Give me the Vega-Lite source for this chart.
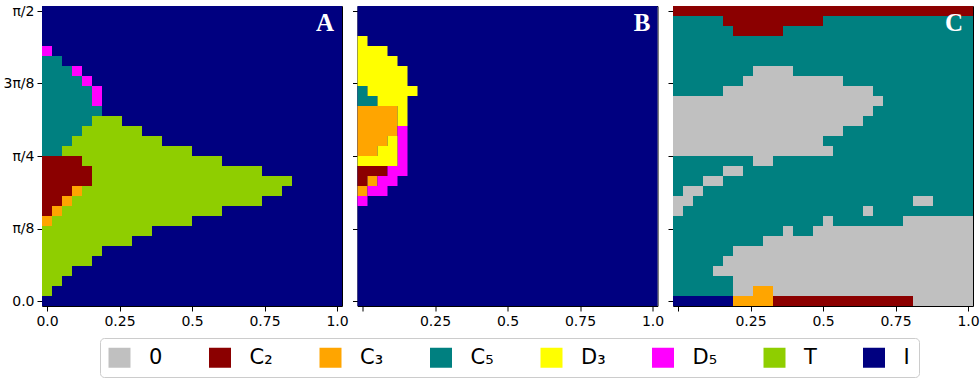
{
  "$schema": "https://vega.github.io/schema/vega-lite/v6.json",
  "padding": {"left": 2, "top": 3, "right": 0, "bottom": 0},
  "background": "white",
  "datasets": {
    "cells": [
      {"p":"A","x0":0,"x1":30,"y0":0,"y1":30,"k":"I"},
      {"p":"A","x0":0,"x1":1,"y0":25,"y1":26,"k":"D₅"},
      {"p":"A","x0":0,"x1":2,"y0":24,"y1":25,"k":"C₅"},
      {"p":"A","x0":0,"x1":3,"y0":23,"y1":24,"k":"C₅"},
      {"p":"A","x0":3,"x1":4,"y0":23,"y1":24,"k":"D₅"},
      {"p":"A","x0":0,"x1":4,"y0":22,"y1":23,"k":"C₅"},
      {"p":"A","x0":4,"x1":5,"y0":22,"y1":23,"k":"D₅"},
      {"p":"A","x0":0,"x1":5,"y0":20,"y1":22,"k":"C₅"},
      {"p":"A","x0":5,"x1":6,"y0":20,"y1":22,"k":"D₅"},
      {"p":"A","x0":0,"x1":6,"y0":19,"y1":20,"k":"C₅"},
      {"p":"A","x0":0,"x1":5,"y0":18,"y1":19,"k":"C₅"},
      {"p":"A","x0":5,"x1":8,"y0":18,"y1":19,"k":"T"},
      {"p":"A","x0":0,"x1":4,"y0":17,"y1":18,"k":"C₅"},
      {"p":"A","x0":4,"x1":10,"y0":17,"y1":18,"k":"T"},
      {"p":"A","x0":0,"x1":3,"y0":16,"y1":17,"k":"C₅"},
      {"p":"A","x0":3,"x1":12,"y0":16,"y1":17,"k":"T"},
      {"p":"A","x0":0,"x1":2,"y0":15,"y1":16,"k":"C₅"},
      {"p":"A","x0":2,"x1":15,"y0":15,"y1":16,"k":"T"},
      {"p":"A","x0":0,"x1":4,"y0":14,"y1":15,"k":"C₂"},
      {"p":"A","x0":4,"x1":18,"y0":14,"y1":15,"k":"T"},
      {"p":"A","x0":0,"x1":5,"y0":12,"y1":14,"k":"C₂"},
      {"p":"A","x0":5,"x1":22,"y0":13,"y1":14,"k":"T"},
      {"p":"A","x0":5,"x1":25,"y0":12,"y1":13,"k":"T"},
      {"p":"A","x0":0,"x1":3,"y0":11,"y1":12,"k":"C₂"},
      {"p":"A","x0":3,"x1":4,"y0":11,"y1":12,"k":"C₃"},
      {"p":"A","x0":4,"x1":24,"y0":11,"y1":12,"k":"T"},
      {"p":"A","x0":0,"x1":2,"y0":10,"y1":11,"k":"C₂"},
      {"p":"A","x0":2,"x1":3,"y0":10,"y1":11,"k":"C₃"},
      {"p":"A","x0":3,"x1":22,"y0":10,"y1":11,"k":"T"},
      {"p":"A","x0":0,"x1":1,"y0":9,"y1":10,"k":"C₂"},
      {"p":"A","x0":1,"x1":2,"y0":9,"y1":10,"k":"C₃"},
      {"p":"A","x0":2,"x1":18,"y0":9,"y1":10,"k":"T"},
      {"p":"A","x0":0,"x1":1,"y0":8,"y1":9,"k":"C₃"},
      {"p":"A","x0":1,"x1":15,"y0":8,"y1":9,"k":"T"},
      {"p":"A","x0":0,"x1":11,"y0":7,"y1":8,"k":"T"},
      {"p":"A","x0":0,"x1":9,"y0":6,"y1":7,"k":"T"},
      {"p":"A","x0":0,"x1":6,"y0":5,"y1":6,"k":"T"},
      {"p":"A","x0":0,"x1":5,"y0":4,"y1":5,"k":"T"},
      {"p":"A","x0":0,"x1":3,"y0":3,"y1":4,"k":"T"},
      {"p":"A","x0":0,"x1":2,"y0":2,"y1":3,"k":"T"},
      {"p":"A","x0":0,"x1":1,"y0":1,"y1":2,"k":"T"},

      {"p":"B","x0":0,"x1":30,"y0":0,"y1":30,"k":"I"},
      {"p":"B","x0":0,"x1":1,"y0":26,"y1":27,"k":"D₃"},
      {"p":"B","x0":0,"x1":3,"y0":25,"y1":26,"k":"D₃"},
      {"p":"B","x0":0,"x1":4,"y0":24,"y1":25,"k":"D₃"},
      {"p":"B","x0":0,"x1":5,"y0":22,"y1":24,"k":"D₃"},
      {"p":"B","x0":0,"x1":1,"y0":21,"y1":22,"k":"C₅"},
      {"p":"B","x0":1,"x1":6,"y0":21,"y1":22,"k":"D₃"},
      {"p":"B","x0":0,"x1":2,"y0":20,"y1":21,"k":"C₅"},
      {"p":"B","x0":2,"x1":5,"y0":20,"y1":21,"k":"D₃"},
      {"p":"B","x0":0,"x1":4,"y0":17,"y1":20,"k":"C₃"},
      {"p":"B","x0":4,"x1":5,"y0":18,"y1":20,"k":"D₃"},
      {"p":"B","x0":4,"x1":5,"y0":14,"y1":18,"k":"D₅"},
      {"p":"B","x0":0,"x1":3,"y0":16,"y1":17,"k":"C₃"},
      {"p":"B","x0":3,"x1":4,"y0":16,"y1":17,"k":"D₃"},
      {"p":"B","x0":0,"x1":2,"y0":15,"y1":16,"k":"C₃"},
      {"p":"B","x0":2,"x1":4,"y0":15,"y1":16,"k":"D₃"},
      {"p":"B","x0":0,"x1":4,"y0":14,"y1":15,"k":"D₃"},
      {"p":"B","x0":0,"x1":3,"y0":13,"y1":14,"k":"C₂"},
      {"p":"B","x0":3,"x1":5,"y0":13,"y1":14,"k":"D₅"},
      {"p":"B","x0":0,"x1":1,"y0":12,"y1":13,"k":"C₂"},
      {"p":"B","x0":1,"x1":2,"y0":12,"y1":13,"k":"C₃"},
      {"p":"B","x0":2,"x1":4,"y0":12,"y1":13,"k":"D₅"},
      {"p":"B","x0":0,"x1":1,"y0":11,"y1":12,"k":"C₃"},
      {"p":"B","x0":1,"x1":3,"y0":11,"y1":12,"k":"D₅"},
      {"p":"B","x0":0,"x1":1,"y0":10,"y1":11,"k":"D₅"},

      {"p":"C","x0":0,"x1":30,"y0":0,"y1":30,"k":"C₅"},
      {"p":"C","x0":0,"x1":30,"y0":29,"y1":30,"k":"C₂"},
      {"p":"C","x0":5,"x1":15,"y0":28,"y1":29,"k":"C₂"},
      {"p":"C","x0":6,"x1":11,"y0":27,"y1":28,"k":"C₂"},
      {"p":"C","x0":8,"x1":12,"y0":23,"y1":24,"k":"0"},
      {"p":"C","x0":7,"x1":17,"y0":22,"y1":23,"k":"0"},
      {"p":"C","x0":5,"x1":20,"y0":21,"y1":22,"k":"0"},
      {"p":"C","x0":0,"x1":21,"y0":20,"y1":21,"k":"0"},
      {"p":"C","x0":0,"x1":20,"y0":19,"y1":20,"k":"0"},
      {"p":"C","x0":0,"x1":19,"y0":18,"y1":19,"k":"0"},
      {"p":"C","x0":0,"x1":17,"y0":17,"y1":18,"k":"0"},
      {"p":"C","x0":0,"x1":15,"y0":16,"y1":17,"k":"0"},
      {"p":"C","x0":0,"x1":16,"y0":15,"y1":16,"k":"0"},
      {"p":"C","x0":8,"x1":10,"y0":14,"y1":15,"k":"0"},
      {"p":"C","x0":5,"x1":7,"y0":13,"y1":14,"k":"0"},
      {"p":"C","x0":3,"x1":5,"y0":12,"y1":13,"k":"0"},
      {"p":"C","x0":1,"x1":3,"y0":11,"y1":12,"k":"0"},
      {"p":"C","x0":0,"x1":2,"y0":10,"y1":11,"k":"0"},
      {"p":"C","x0":24,"x1":26,"y0":10,"y1":11,"k":"0"},
      {"p":"C","x0":0,"x1":1,"y0":9,"y1":10,"k":"0"},
      {"p":"C","x0":19,"x1":20,"y0":9,"y1":10,"k":"0"},
      {"p":"C","x0":15,"x1":16,"y0":8,"y1":9,"k":"0"},
      {"p":"C","x0":23,"x1":30,"y0":8,"y1":9,"k":"0"},
      {"p":"C","x0":11,"x1":12,"y0":7,"y1":8,"k":"0"},
      {"p":"C","x0":14,"x1":30,"y0":7,"y1":8,"k":"0"},
      {"p":"C","x0":9,"x1":30,"y0":6,"y1":7,"k":"0"},
      {"p":"C","x0":6,"x1":30,"y0":5,"y1":6,"k":"0"},
      {"p":"C","x0":5,"x1":30,"y0":4,"y1":5,"k":"0"},
      {"p":"C","x0":4,"x1":30,"y0":3,"y1":4,"k":"0"},
      {"p":"C","x0":6,"x1":30,"y0":2,"y1":3,"k":"0"},
      {"p":"C","x0":6,"x1":8,"y0":1,"y1":2,"k":"0"},
      {"p":"C","x0":8,"x1":10,"y0":1,"y1":2,"k":"C₃"},
      {"p":"C","x0":10,"x1":30,"y0":1,"y1":2,"k":"0"},
      {"p":"C","x0":0,"x1":6,"y0":0,"y1":1,"k":"I"},
      {"p":"C","x0":6,"x1":10,"y0":0,"y1":1,"k":"C₃"},
      {"p":"C","x0":10,"x1":24,"y0":0,"y1":1,"k":"C₂"},
      {"p":"C","x0":24,"x1":30,"y0":0,"y1":1,"k":"0"}
    ],
    "labels": [
      {"p":"A","t":"A","x":29.2,"y":27.5},
      {"p":"B","t":"B","x":29.3,"y":27.5},
      {"p":"C","t":"C","x":29.0,"y":27.5}
    ]
  },
  "hconcat": [
    {
      "width": 300, "height": 300,
      "layer": [
        {
          "data": {"name": "cells"},
          "transform": [{"filter": "datum.p == 'A'"}],
          "mark": {"type": "rect", "strokeWidth": 0},
          "encoding": {
            "x": {"field": "x0", "type": "quantitative", "title": null,
                  "scale": {"domain": [0, 30], "nice": false, "zero": false},
                  "axis": {"values": [0.5, 7.75, 15, 22.25, 29.5],
                           "labelExpr": "datum.value < 1 ? '0.0' : datum.value < 8 ? '0.25' : datum.value < 16 ? '0.5' : datum.value < 23 ? '0.75' : '1.0'"}},
            "x2": {"field": "x1"},
            "y": {"field": "y0", "type": "quantitative", "title": null,
                  "scale": {"domain": [0, 30], "nice": false, "zero": false},
                  "axis": {"values": [0.5, 7.75, 15, 22.25, 29.5],
                           "labelExpr": "datum.value < 1 ? '0.0' : datum.value < 8 ? 'π/8' : datum.value < 16 ? 'π/4' : datum.value < 23 ? '3π/8' : 'π/2'"}},
            "y2": {"field": "y1"},
            "color": {"field": "k", "type": "nominal",
                      "scale": {"domain": ["0","C₂","C₃","C₅","D₃","D₅","T","I"],
                                "range": ["#c0c0c0","#8b0000","#ffa500","#008080","#ffff00","#ff00ff","#8fce00","#000080"]},
                      "legend": {"title": null, "orient": "none", "legendX": 58, "legendY": 332,
                                 "direction": "horizontal", "columns": 8}}
          }
        },
        {
          "data": {"name": "labels"},
          "transform": [{"filter": "datum.p == 'A'"}],
          "mark": {"type": "text", "font": "Liberation Serif", "fontWeight": "bold", "fontSize": 25, "color": "white", "align": "right", "baseline": "alphabetic"},
          "encoding": {
            "x": {"field": "x", "type": "quantitative"},
            "y": {"field": "y", "type": "quantitative"},
            "text": {"field": "t"}
          }
        }
      ]
    },
    {
      "width": 300, "height": 300,
      "layer": [
        {
          "data": {"name": "cells"},
          "transform": [{"filter": "datum.p == 'B'"}],
          "mark": {"type": "rect", "strokeWidth": 0},
          "encoding": {
            "x": {"field": "x0", "type": "quantitative", "title": null,
                  "scale": {"domain": [0, 30], "nice": false, "zero": false},
                  "axis": {"values": [0.5, 7.75, 15, 22.25, 29.5],
                           "labelExpr": "datum.value < 1 ? '' : datum.value < 8 ? '0.25' : datum.value < 16 ? '0.5' : datum.value < 23 ? '0.75' : '1.0'"}},
            "x2": {"field": "x1"},
            "y": {"field": "y0", "type": "quantitative", "title": null,
                  "scale": {"domain": [0, 30], "nice": false, "zero": false},
                  "axis": {"values": [0.5, 7.75, 15, 22.25, 29.5], "labels": false}},
            "y2": {"field": "y1"},
            "color": {"field": "k", "type": "nominal"}
          }
        },
        {
          "data": {"name": "labels"},
          "transform": [{"filter": "datum.p == 'B'"}],
          "mark": {"type": "text", "font": "Liberation Serif", "fontWeight": "bold", "fontSize": 25, "color": "white", "align": "right", "baseline": "alphabetic"},
          "encoding": {
            "x": {"field": "x", "type": "quantitative"},
            "y": {"field": "y", "type": "quantitative"},
            "text": {"field": "t"}
          }
        }
      ]
    },
    {
      "width": 300, "height": 300,
      "layer": [
        {
          "data": {"name": "cells"},
          "transform": [{"filter": "datum.p == 'C'"}],
          "mark": {"type": "rect", "strokeWidth": 0},
          "encoding": {
            "x": {"field": "x0", "type": "quantitative", "title": null,
                  "scale": {"domain": [0, 30], "nice": false, "zero": false},
                  "axis": {"values": [0.5, 7.75, 15, 22.25, 29.5],
                           "labelExpr": "datum.value < 1 ? '' : datum.value < 8 ? '0.25' : datum.value < 16 ? '0.5' : datum.value < 23 ? '0.75' : '1.0'"}},
            "x2": {"field": "x1"},
            "y": {"field": "y0", "type": "quantitative", "title": null,
                  "scale": {"domain": [0, 30], "nice": false, "zero": false},
                  "axis": {"values": [0.5, 7.75, 15, 22.25, 29.5], "labels": false}},
            "y2": {"field": "y1"},
            "color": {"field": "k", "type": "nominal"}
          }
        },
        {
          "data": {"name": "labels"},
          "transform": [{"filter": "datum.p == 'C'"}],
          "mark": {"type": "text", "font": "Liberation Serif", "fontWeight": "bold", "fontSize": 25, "color": "white", "align": "right", "baseline": "alphabetic"},
          "encoding": {
            "x": {"field": "x", "type": "quantitative"},
            "y": {"field": "y", "type": "quantitative"},
            "text": {"field": "t"}
          }
        }
      ]
    }
  ],
  "spacing": 15.5,
  "bounds": "flush",
  "config": {
    "view": {"stroke": "black", "strokeWidth": 1},
    "axis": {"labelFont": "DejaVu Sans", "labelFontSize": 14, "labelColor": "black",
             "tickColor": "black", "tickSize": 5, "tickWidth": 1, "domain": false, "grid": false,
             "labelPadding": 3, "labelFlush": false, "labelOverlap": false},
    "legend": {"symbolType": "M-1.1,-1h2.2v2h-2.2Z", "symbolSize": 400, "symbolStrokeWidth": 0,
               "symbolOpacity": 1, "labelFont": "DejaVu Sans", "labelFontSize": 21, "labelColor": "black",
               "labelOffset": 19, "columnPadding": 45.5, "padding": 9, "strokeColor": "#cccccc",
               "cornerRadius": 4, "fillColor": "white", "labelLimit": 200}
  }
}
